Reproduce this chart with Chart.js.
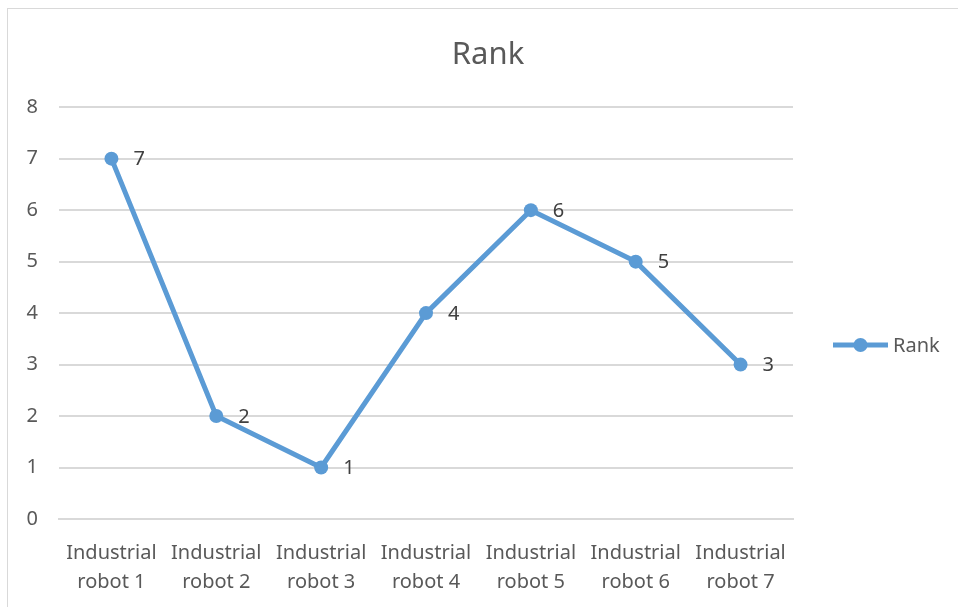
<!DOCTYPE html>
<html>
<head>
<meta charset="utf-8">
<script src="https://cdn.jsdelivr.net/npm/chart.js@4/dist/chart.umd.min.js"></script>
<style>
  html, body { margin: 0; padding: 0; background: #ffffff; overflow: hidden; }
  #wrap { position: absolute; left: 0; top: 0; width: 958px; height: 607px; }
  #frame { position: absolute; left: 7px; top: 8px; width: 970px; height: 620px; border: 1.5px solid #d9d9d9; pointer-events: none; box-sizing: border-box; }
</style>
</head>
<body>
<div id="wrap"><canvas id="c" width="958" height="607"></canvas></div>
<div id="frame"></div>
<script>
const chartTitle = 'Rank';
const seriesName = 'Rank';
const categories = [
  ['Industrial', 'robot 1'],
  ['Industrial', 'robot 2'],
  ['Industrial', 'robot 3'],
  ['Industrial', 'robot 4'],
  ['Industrial', 'robot 5'],
  ['Industrial', 'robot 6'],
  ['Industrial', 'robot 7']
];
const rankValues = [7, 2, 1, 4, 6, 5, 3];
const yTicks = [0, 1, 2, 3, 4, 5, 6, 7, 8];

const FONT = '"Noto Sans", "Open Sans", sans-serif';
const LINE_COLOR = '#5B9BD5';

const dataLabels = {
  id: 'dataLabels',
  afterDatasetsDraw(chart) {
    const ctx = chart.ctx;
    const meta = chart.getDatasetMeta(0);
    const values = chart.data.datasets[0].data;
    ctx.save();
    ctx.font = '20px ' + FONT;
    ctx.fillStyle = '#404040';
    ctx.textAlign = 'left';
    ctx.textBaseline = 'middle';
    meta.data.forEach((pt, i) => {
      ctx.fillText(String(values[i]), pt.x + 22, pt.y + 1);
    });
    ctx.restore();
  }
};

const sideLegend = {
  id: 'sideLegend',
  afterDraw(chart) {
    const ctx = chart.ctx;
    const ds = chart.data.datasets[0];
    const x0 = 833, x1 = 888, y = 345;
    ctx.save();
    ctx.strokeStyle = ds.borderColor;
    ctx.lineWidth = ds.borderWidth;
    ctx.lineCap = 'butt';
    ctx.beginPath();
    ctx.moveTo(x0, y);
    ctx.lineTo(x1, y);
    ctx.stroke();
    ctx.fillStyle = ds.pointBackgroundColor;
    ctx.beginPath();
    ctx.arc((x0 + x1) / 2, y, 7, 0, Math.PI * 2);
    ctx.fill();
    ctx.font = '20px ' + FONT;
    ctx.fillStyle = '#595959';
    ctx.textAlign = 'left';
    ctx.textBaseline = 'middle';
    ctx.fillText(ds.label, x1 + 5, y + 1);
    ctx.restore();
  }
};

new Chart(document.getElementById('c'), {
  type: 'line',
  data: {
    labels: categories,
    datasets: [{
      label: seriesName,
      data: rankValues,
      borderColor: LINE_COLOR,
      backgroundColor: LINE_COLOR,
      pointBackgroundColor: LINE_COLOR,
      pointBorderColor: LINE_COLOR,
      borderWidth: 5,
      pointRadius: 7,
      pointBorderWidth: 0,
      tension: 0,
      fill: false
    }]
  },
  options: {
    responsive: false,
    animation: false,
    events: [],
    layout: { padding: { left: 18, right: 0, top: 0, bottom: 0 } },
    plugins: {
      legend: { display: false },
      tooltip: { enabled: false },
      title: {
        display: true,
        text: chartTitle,
        color: '#595959',
        font: { family: FONT, size: 31, weight: 'normal', lineHeight: 1.2 },
        padding: { top: 37, bottom: 33 }
      }
    },
    scales: {
      x: {
        type: 'category',
        offset: true,
        grid: { display: false, drawTicks: false },
        border: { display: true, color: '#d9d9d9', width: 2 },
        ticks: {
          color: '#595959',
          font: { family: FONT, size: 20, lineHeight: 1.45 },
          padding: 20,
          maxRotation: 0,
          autoSkip: false
        },
        afterFit(scale) { scale.height = 88; }
      },
      y: {
        min: 0,
        max: 8,
        afterBuildTicks(scale) { scale.ticks = yTicks.map(v => ({ value: v })); },
        grid: { color: '#d9d9d9', lineWidth: 2, drawTicks: false },
        border: { display: false },
        ticks: {
          color: '#595959',
          font: { family: FONT, size: 20 },
          padding: 21
        },
        afterFit(scale) { scale.width = 41; }
      },
      legendSpace: {
        type: 'linear',
        position: 'right',
        display: true,
        grid: { display: false, drawTicks: false },
        border: { display: false },
        ticks: { display: false },
        afterFit(scale) { scale.width = 165; }
      }
    }
  },
  plugins: [dataLabels, sideLegend]
});
</script>
</body>
</html>
